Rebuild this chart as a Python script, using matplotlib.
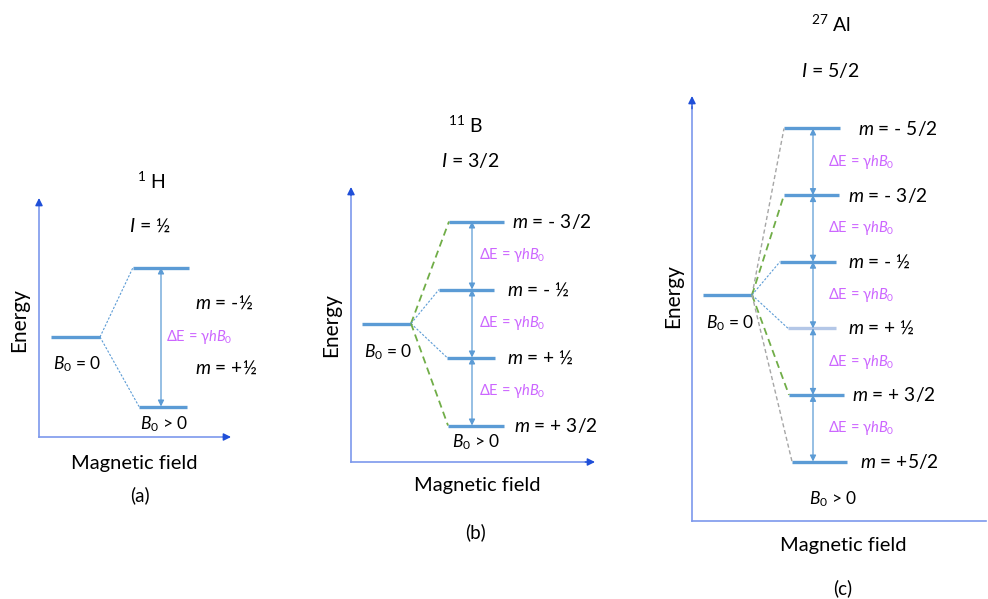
import matplotlib
matplotlib.use('Agg')
import matplotlib.pyplot as plt

plt.rcParams['font.family'] = ['Lato', 'DejaVu Sans']
plt.rcParams['mathtext.fontset'] = 'custom'
plt.rcParams['mathtext.rm'] = 'Lato'
plt.rcParams['mathtext.it'] = 'Lato:italic'

W, H = 988, 599

# nuclei, spin quantum numbers and Zeeman sublevels (highest energy first)
nuclei = ['$^{1}$ H', '$^{11}$ B', '$^{27}$ Al']
spins = ['$I$ = ½', '$I$ = 3/2', '$I$ = 5/2']
m_values = [
    [-0.5, 0.5],
    [-1.5, -0.5, 0.5, 1.5],
    [-2.5, -1.5, -0.5, 0.5, 1.5, 2.5],
]
m_labels = [
    ['$m$ = -½', '$m$ = +½'],
    ['$m$ = - 3/2', '$m$ = - ½', '$m$ = + ½', '$m$ = + 3/2'],
    ['$m$ = - 5/2', '$m$ = - 3/2', '$m$ = - ½', '$m$ = + ½', '$m$ = + 3/2', '$m$ = +5/2'],
]
panel_tags = ['(a)', '(b)', '(c)']
delta_e = 'ΔE = γ$hB_0$'

# pixel layout of each panel
layout = [
    dict(ox=39, oy=437, top=198, right=231, y0=337, s=139,
         zero=(51, 100), lev=[(133, 189), (139, 187)], arrow_x=161,
         mlab_x=[195, 195], mlab_e=[0.245, -0.225], de_x=166,
         b0=(53, 364), b1=(140, 424), energy=(19, 320),
         field=(134, 463), tag=(140, 495), nuc=(151, 181), spin=(150, 226),
         xhead=True),
    dict(ox=351, oy=462, top=187, right=595, y0=323.5, s=68,
         zero=(362, 411), lev=[(449, 504), (439, 494), (447, 495), (448, 504)],
         arrow_x=472, mlab_x=[512, 507, 507, 514], mlab_e=None, de_x=479,
         b0=(364, 352), b1=(452, 442), energy=(331, 325),
         field=(477, 485), tag=(475, 532), nuc=(466, 125), spin=(470, 161),
         xhead=True),
    dict(ox=692, oy=521, top=96, right=986, y0=295, s=66.6,
         zero=(703, 752), lev=[(784, 840), (784, 839), (780, 836), (788, 836), (789, 844), (792, 847)],
         arrow_x=813, mlab_x=[858, 848, 848, 848, 852, 860], mlab_e=None, de_x=828,
         b0=(706, 323), b1=(809, 499), energy=(673, 296),
         field=(843, 545), tag=(843, 588), nuc=(831, 24), spin=(830, 70),
         xhead=False),
]

level_col = '#5b9bd5'
axis_col = '#7d98ec'
head_col = '#1f4fd8'
de_col = '#cc66ff'
fan_style = {0.5: dict(color='#5b9bd5', lw=0.8, ls=(0, (2, 1.5))),
             1.5: dict(color='#70ad47', lw=1.3, ls=(0, (4, 2.5))),
             2.5: dict(color='#a6a6a6', lw=1.0, ls=(0, (3, 2)))}


def px(x, y):
    return x / W, 1 - y / H


fig = plt.figure(figsize=(W / 100, H / 100), dpi=100)

for k, L in enumerate(layout):
    ox, oy = L['ox'], L['oy']
    ax = fig.add_axes([ox / W, 1 - oy / H, (L['right'] - ox) / W, (oy - L['top']) / H])
    ax.set_xlim(0, L['right'] - ox)
    ax.set_ylim((L['y0'] - oy) / L['s'], (L['y0'] - L['top']) / L['s'])
    ax.axis('off')

    # energy and field axes
    ax.plot([0, 0], [0, 0.975], transform=ax.transAxes, color=axis_col, lw=1.2, clip_on=False)
    ax.annotate('', xy=(0, 1), xytext=(0, 0.97), xycoords='axes fraction',
                arrowprops=dict(arrowstyle='-|>', color=head_col, lw=1, mutation_scale=11,
                                shrinkA=0, shrinkB=0))
    ax.plot([0, 0.97 if L['xhead'] else 1], [0, 0], transform=ax.transAxes,
            color=axis_col, lw=1.2, clip_on=False)
    if L['xhead']:
        ax.annotate('', xy=(1, 0), xytext=(0.96, 0), xycoords='axes fraction',
                    arrowprops=dict(arrowstyle='-|>', color=head_col, lw=1, mutation_scale=11,
                                    shrinkA=0, shrinkB=0))

    # zero-field level
    zx0, zx1 = L['zero'][0] - ox, L['zero'][1] - ox
    ax.plot([zx0, zx1], [0, 0], color=level_col, lw=2.4, solid_capstyle='butt')

    energies = [-m for m in m_values[k]]
    ax_x = L['arrow_x'] - ox
    for i, (m, e) in enumerate(zip(m_values[k], energies)):
        lx0, lx1 = L['lev'][i][0] - ox, L['lev'][i][1] - ox
        col = '#b4c7e7' if (k == 2 and m == 0.5) else level_col
        ax.plot([lx0, lx1], [e, e], color=col, lw=2.4, solid_capstyle='butt')
        ax.plot([zx1, lx0], [0, e], **fan_style[abs(m)])
        le = L['mlab_e'][i] if L['mlab_e'] else e
        ax.text(L['mlab_x'][i] - ox, le, m_labels[k][i], fontsize=13.8, va='center', ha='left')

    # transitions between neighbouring levels
    for e1, e2 in zip(energies[:-1], energies[1:]):
        ax.annotate('', xy=(ax_x, e2), xytext=(ax_x, e1),
                    arrowprops=dict(arrowstyle='<|-|>', color=level_col, lw=0.9,
                                    mutation_scale=9, shrinkA=0, shrinkB=0))
        ax.text(L['de_x'] - ox, (e1 + e2) / 2, delta_e, color=de_col, fontsize=10.5,
                va='center', ha='left')

    fig.text(*px(*L['b0']), '$B_0$ = 0', fontsize=12.5, va='center', ha='left')
    fig.text(*px(*L['b1']), '$B_0$ > 0', fontsize=12.5, va='center', ha='left')
    fig.text(*px(*L['energy']), 'Energy', fontsize=15, rotation=90, va='center', ha='center')
    fig.text(*px(*L['field']), 'Magnetic field', fontsize=14.5, va='center', ha='center')
    fig.text(*px(*L['tag']), panel_tags[k], fontsize=13.5, va='center', ha='center')
    fig.text(*px(*L['nuc']), nuclei[k], fontsize=14, va='center', ha='center')
    fig.text(*px(*L['spin']), spins[k], fontsize=14, va='center', ha='center')

fig.savefig('out.png', dpi=100, facecolor='white')
